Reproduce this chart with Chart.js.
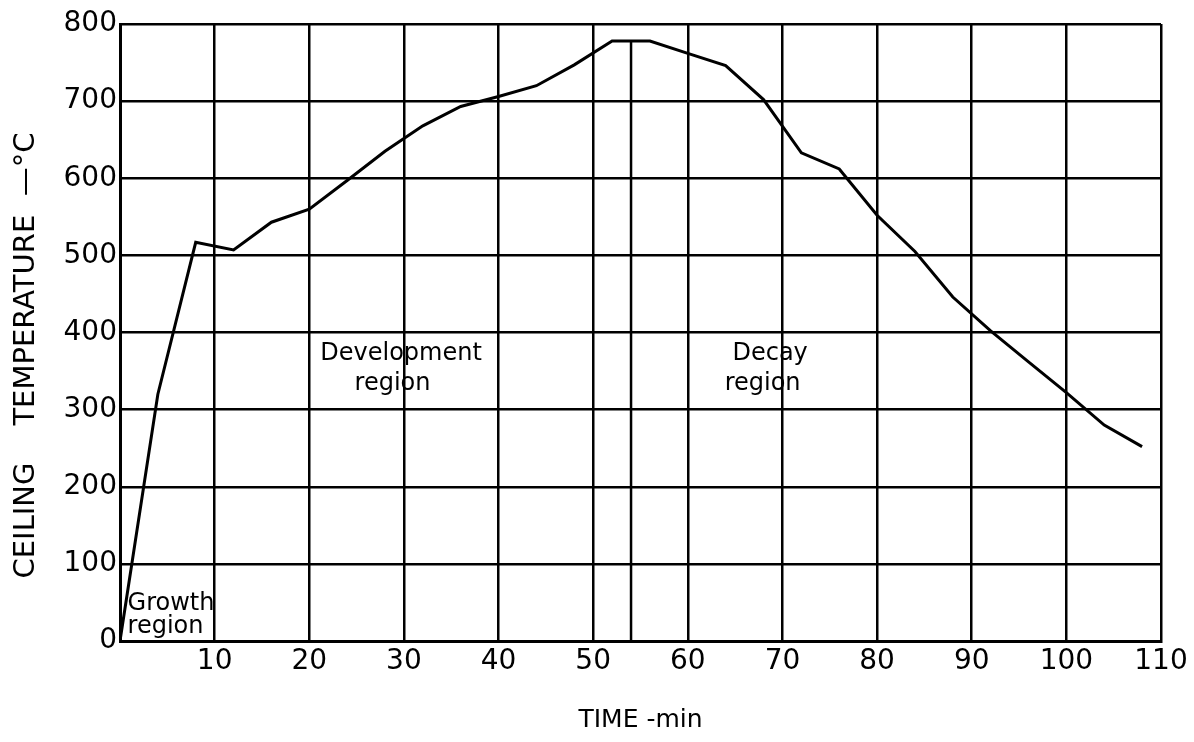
<!DOCTYPE html>
<html>
<head>
<meta charset="utf-8">
<script src="https://cdn.jsdelivr.net/npm/chart.js@4"></script>
<style>
  html, body { margin: 0; padding: 0; background: #fff; }
  #wrap { width: 1194px; height: 742px; }
</style>
</head>
<body>
<div id="wrap"><canvas id="myChart"></canvas></div>
<script>
// readings taken off the curve every 4 minutes
let timeMin = [0, 4, 8, 12, 16, 20, 24, 28, 32, 36, 40, 44, 48, 52, 56, 60, 64, 68, 72, 76, 80, 84, 88, 92, 96, 100, 104, 108];
let ceilingTemp = [0, 320, 517, 507, 543, 560, 597, 635, 668, 693, 706, 720, 747, 778, 778, 762, 746, 702, 633, 612, 552, 505, 446, 402, 362, 322, 280, 252];

// line dividing development and decay regions
let dividerTime = [54, 54];
let dividerTemp = [0, 778];

let xTicks = [10, 20, 30, 40, 50, 60, 70, 80, 90, 100, 110];
let yTicks = [0, 100, 200, 300, 400, 500, 600, 700, 800];

let ink = "#000";
let fontName = "'DejaVu Sans', sans-serif";

function toPoints(xs, ys) {
  return xs.map((x, i) => ({ x: x, y: ys[i] }));
}

// region names written inside the plot
let regionText = {
  id: "regionText",
  afterDatasetsDraw(chart) {
    let ctx = chart.ctx;
    let x = chart.scales.x;
    let y = chart.scales.y;
    ctx.save();
    ctx.fillStyle = ink;
    ctx.font = "24px " + fontName;
    ctx.textBaseline = "middle";

    ctx.textAlign = "left";
    ctx.fillText("Growth", x.getPixelForValue(0.8), y.getPixelForValue(48));
    ctx.fillText("region", x.getPixelForValue(0.8), y.getPixelForValue(19));

    ctx.textAlign = "center";
    ctx.fillText("Development", x.getPixelForValue(29.7), y.getPixelForValue(372));
    ctx.fillText("region", x.getPixelForValue(28.8), y.getPixelForValue(334));
    ctx.fillText("Decay", x.getPixelForValue(68.7), y.getPixelForValue(372));
    ctx.fillText("region", x.getPixelForValue(67.9), y.getPixelForValue(334));
    ctx.restore();
  }
};

new Chart("myChart", {
  type: "line",
  data: {
    datasets: [{
      data: toPoints(timeMin, ceilingTemp),
      borderColor: ink,
      borderWidth: 3,
      pointRadius: 0,
      tension: 0,
      fill: false
    }, {
      data: toPoints(dividerTime, dividerTemp),
      borderColor: ink,
      borderWidth: 2.5,
      pointRadius: 0,
      tension: 0,
      fill: false
    }]
  },
  options: {
    responsive: true,
    maintainAspectRatio: false,
    animation: false,
    events: [],
    layout: {
      padding: { left: 0, right: 33, top: 24, bottom: 0 }
    },
    plugins: {
      legend: { display: false },
      tooltip: { enabled: false }
    },
    scales: {
      x: {
        type: "linear",
        min: 0,
        max: 110,
        afterFit(scale) { scale.height = 101; },
        afterBuildTicks(scale) {
          scale.ticks = [0].concat(xTicks).map(v => ({ value: v }));
        },
        grid: { color: ink, lineWidth: 2.5, drawTicks: false },
        border: { color: ink, width: 3 },
        ticks: {
          color: ink,
          padding: 4,
          maxRotation: 0,
          font: { family: fontName, size: 28 },
          callback: v => (v === 0 ? "" : v)
        },
        title: {
          display: true,
          text: "TIME -min",
          color: ink,
          font: { family: fontName, size: 25 },
          padding: { top: 0, bottom: 7 }
        }
      },
      y: {
        min: 0,
        max: 800,
        afterFit(scale) { scale.width = 120; },
        afterBuildTicks(scale) {
          scale.ticks = yTicks.map(v => ({ value: v }));
        },
        grid: { color: ink, lineWidth: 2.5, drawTicks: false },
        border: { color: ink, width: 3 },
        ticks: {
          color: ink,
          padding: 3,
          font: { family: fontName, size: 28 }
        },
        title: {
          display: true,
          // trailing spaces nudge the visible text down to sit where the original does
          text: "CEILING    TEMPERATURE  \u2014\u00b0C     ",
          color: ink,
          font: { family: fontName, size: 29 },
          padding: { top: 9, bottom: 0 }
        }
      }
    }
  },
  plugins: [regionText]
});
</script>
</body>
</html>
